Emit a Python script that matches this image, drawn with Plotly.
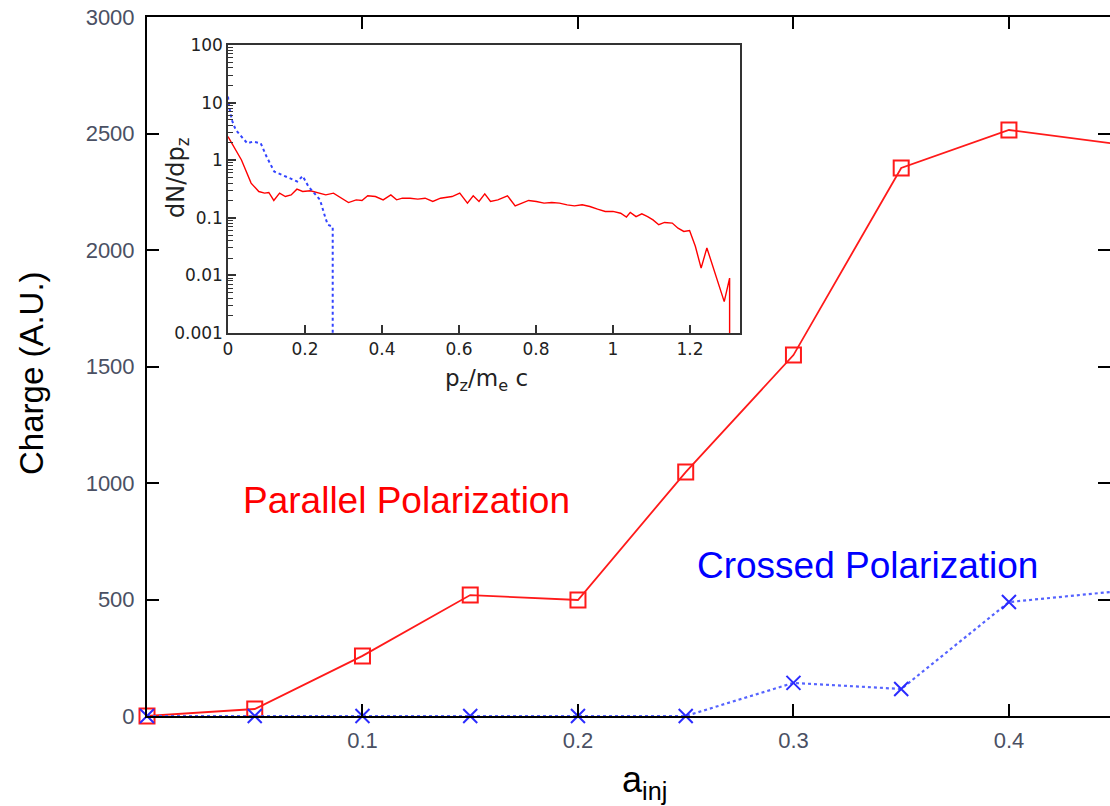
import plotly.graph_objects as go

# ---------------- data ----------------
a_inj = [0.0, 0.05, 0.10, 0.15, 0.20, 0.25, 0.30, 0.35, 0.40, 0.45]
charge_parallel = [0, 30, 258, 519, 498, 1047, 1549, 2352, 2515, 2455]
charge_crossed = [0, 0, 0, 0, 0, 0, 142, 116, 489, 535]

main_yticks = [0, 500, 1000, 1500, 2000, 2500, 3000]
main_xticks = [0.0, 0.1, 0.2, 0.3, 0.4]
main_xticklabels = ["", "0.1", "0.2", "0.3", "0.4"]

pz_parallel = [0.000, 0.010, 0.035, 0.060, 0.080, 0.095, 0.106, 0.119, 0.134, 0.149,
               0.164, 0.179, 0.194, 0.214, 0.234, 0.254, 0.274, 0.294, 0.313, 0.333,
               0.348, 0.363, 0.383, 0.403, 0.423, 0.438, 0.453, 0.473, 0.493, 0.512,
               0.532, 0.552, 0.582, 0.602, 0.622, 0.637, 0.652, 0.667, 0.682, 0.701,
               0.726, 0.746, 0.766, 0.781, 0.801, 0.821, 0.841, 0.861, 0.881, 0.900,
               0.920, 0.940, 0.960, 0.980, 1.000, 1.020, 1.035, 1.045, 1.060, 1.075,
               1.090, 1.104, 1.119, 1.134, 1.154, 1.169, 1.184, 1.199, 1.214, 1.229,
               1.244, 1.289, 1.303, 1.303]
dn_parallel = [2.57, 1.97, 1.01, 0.40, 0.286, 0.268, 0.275, 0.200, 0.268, 0.234,
               0.250, 0.314, 0.286, 0.294, 0.268, 0.250, 0.268, 0.219, 0.184, 0.205,
               0.200, 0.241, 0.234, 0.205, 0.250, 0.205, 0.219, 0.219, 0.211, 0.219,
               0.192, 0.219, 0.234, 0.268, 0.180, 0.241, 0.192, 0.261, 0.192, 0.205,
               0.241, 0.161, 0.180, 0.200, 0.192, 0.180, 0.184, 0.180, 0.168, 0.161,
               0.168, 0.157, 0.141, 0.129, 0.129, 0.120, 0.103, 0.124, 0.105, 0.117,
               0.105, 0.092, 0.076, 0.083, 0.081, 0.066, 0.058, 0.060, 0.032, 0.0134,
               0.030, 0.0035, 0.0090, 0.001]

pz_crossed = [0.000, 0.003, 0.010, 0.020, 0.035, 0.050, 0.065, 0.085, 0.100, 0.120,
              0.140, 0.160, 0.180, 0.194, 0.209, 0.224, 0.239, 0.252, 0.259, 0.272, 0.272]
dn_crossed = [12.7, 8.5, 5.0, 3.36, 2.57, 1.97, 2.1, 1.97, 1.16, 0.635,
              0.557, 0.488, 0.427, 0.53, 0.349, 0.268, 0.205, 0.105, 0.076, 0.070, 0.001]

inset_yticks = [0.001, 0.01, 0.1, 1, 10, 100]
inset_yticklabels = ["0.001", "0.01", "0.1", "1", "10", "100"]
inset_minor_yticks = [m * d for d in [0.001, 0.01, 0.1, 1, 10] for m in range(2, 10)]
inset_xticks = [0, 0.2, 0.4, 0.6, 0.8, 1.0, 1.2]
inset_xticklabels = ["0", "0.2", "0.4", "0.6", "0.8", "1", "1.2"]

RED = "#ff1a1a"
BLUE = "#2b2bff"

fig = go.Figure()

# main traces
fig.add_trace(go.Scatter(
    x=a_inj, y=charge_parallel, mode="lines+markers", xaxis="x", yaxis="y",
    line=dict(color=RED, width=1.8),
    marker=dict(symbol="square-open", size=15, color=RED, line=dict(width=2, color=RED)),
    cliponaxis=False, showlegend=False))
fig.add_trace(go.Scatter(
    x=a_inj, y=charge_crossed, mode="lines+markers", xaxis="x", yaxis="y",
    line=dict(color="#5563ff", width=2.2, dash="dot"),
    marker=dict(symbol="x-thin-open", size=14, color=BLUE, line=dict(width=2, color=BLUE)),
    cliponaxis=False, showlegend=False))

# inset traces
fig.add_trace(go.Scatter(
    x=pz_parallel, y=dn_parallel, mode="lines", xaxis="x2", yaxis="y2",
    line=dict(color="#ff0000", width=1.4), showlegend=False))
fig.add_trace(go.Scatter(
    x=pz_crossed, y=dn_crossed, mode="lines", xaxis="x2", yaxis="y2",
    line=dict(color="#3344ff", width=2, dash="dot"), showlegend=False))

# empty traces so that the tick-only overlay axes are drawn
fig.add_trace(go.Scatter(x=[None], y=[None], xaxis="x", yaxis="y3", mode="lines",
                         hoverinfo="skip", showlegend=False))
fig.add_trace(go.Scatter(x=[None], y=[None], xaxis="x2", yaxis="y4", mode="lines",
                         hoverinfo="skip", showlegend=False))

W, H = 1110, 806
L, R_, T, B = 147, 0, 17, 90
pw = W - L - R_
ph = H - T - B

def px_x(px):
    return (px - L) / pw

def px_y(py):
    return (H - B - py) / ph

tickfont_main = dict(family="Arial", size=22, color="#4a5063")
tickfont_inset = dict(family="DejaVu Sans", size=17, color="#222222")

fig.update_layout(
    width=W, height=H,
    margin=dict(l=L, r=R_, t=T, b=B, pad=0),
    paper_bgcolor="white", plot_bgcolor="white",
    xaxis=dict(domain=[0, 1], range=[0, 0.4469], tickvals=main_xticks, ticktext=main_xticklabels,
               ticks="inside", ticklen=12, tickwidth=2, tickcolor="black",
               showline=True, linewidth=2, linecolor="black", mirror="ticks",
               showgrid=False, zeroline=False, tickfont=tickfont_main, anchor="y",
               ticklabelstandoff=4),
    yaxis=dict(domain=[0, 1], range=[0, 3000], tickvals=main_yticks,
               ticks="inside", ticklen=12, tickwidth=2, tickcolor="black",
               showline=True, linewidth=2, linecolor="black",
               showgrid=False, zeroline=False, tickfont=tickfont_main, anchor="x",
               ticklabelstandoff=6),
    yaxis3=dict(overlaying="y", side="right", anchor="x", range=[0, 3000], tickvals=main_yticks,
                ticks="inside", ticklen=12, tickwidth=2, tickcolor="black",
                showticklabels=False, showline=False, showgrid=False, zeroline=False),
    xaxis2=dict(domain=[px_x(228), px_x(740)], range=[0, 1.33], anchor="y2",
                tickvals=inset_xticks, ticktext=inset_xticklabels,
                ticks="inside", ticklen=8, tickwidth=1.5, tickcolor="#333333",
                showline=True, linewidth=1.5, linecolor="#333333", mirror=True,
                showgrid=False, zeroline=False, tickfont=tickfont_inset),
    yaxis2=dict(domain=[px_y(333), px_y(45)], type="log", range=[-3, 2], anchor="x2",
                tickvals=inset_yticks, ticktext=inset_yticklabels,
                ticks="inside", ticklen=8, tickwidth=1.5, tickcolor="#333333",
                showline=True, linewidth=1.5, linecolor="#333333", mirror=True,
                showgrid=False, zeroline=False, tickfont=tickfont_inset),
    yaxis4=dict(overlaying="y2", side="left", anchor="x2", type="log", range=[-3, 2],
                tickvals=inset_minor_yticks, ticks="inside", ticklen=5, tickwidth=1.2,
                tickcolor="#333333", showticklabels=False, showline=False,
                showgrid=False, zeroline=False),
)

annotations = [
    dict(text="Charge (A.U.)", x=px_x(32), y=px_y(373), textangle=-90,
         font=dict(family="Arial", size=33, color="black")),
    dict(text="a<sub>inj</sub>", x=px_x(644), y=px_y(782),
         font=dict(family="Arial", size=36, color="black")),
    dict(text="Parallel Polarization", x=px_x(406), y=px_y(500),
         font=dict(family="Arial", size=37, color="#ff0000")),
    dict(text="Crossed Polarization", x=px_x(867), y=px_y(565),
         font=dict(family="Arial", size=37, color="#0000ff")),
    dict(text="p<sub>z</sub>/m<sub>e</sub> c", x=px_x(486), y=px_y(380),
         font=dict(family="DejaVu Sans", size=23, color="#222222")),
    dict(text="dN/dp<sub>z</sub>", x=px_x(178), y=px_y(178), textangle=-90,
         font=dict(family="DejaVu Sans", size=24, color="#222222")),
]
for a in annotations:
    a.update(xref="paper", yref="paper", showarrow=False, xanchor="center", yanchor="middle")
fig.update_layout(annotations=annotations)

fig.write_html("out.html")
